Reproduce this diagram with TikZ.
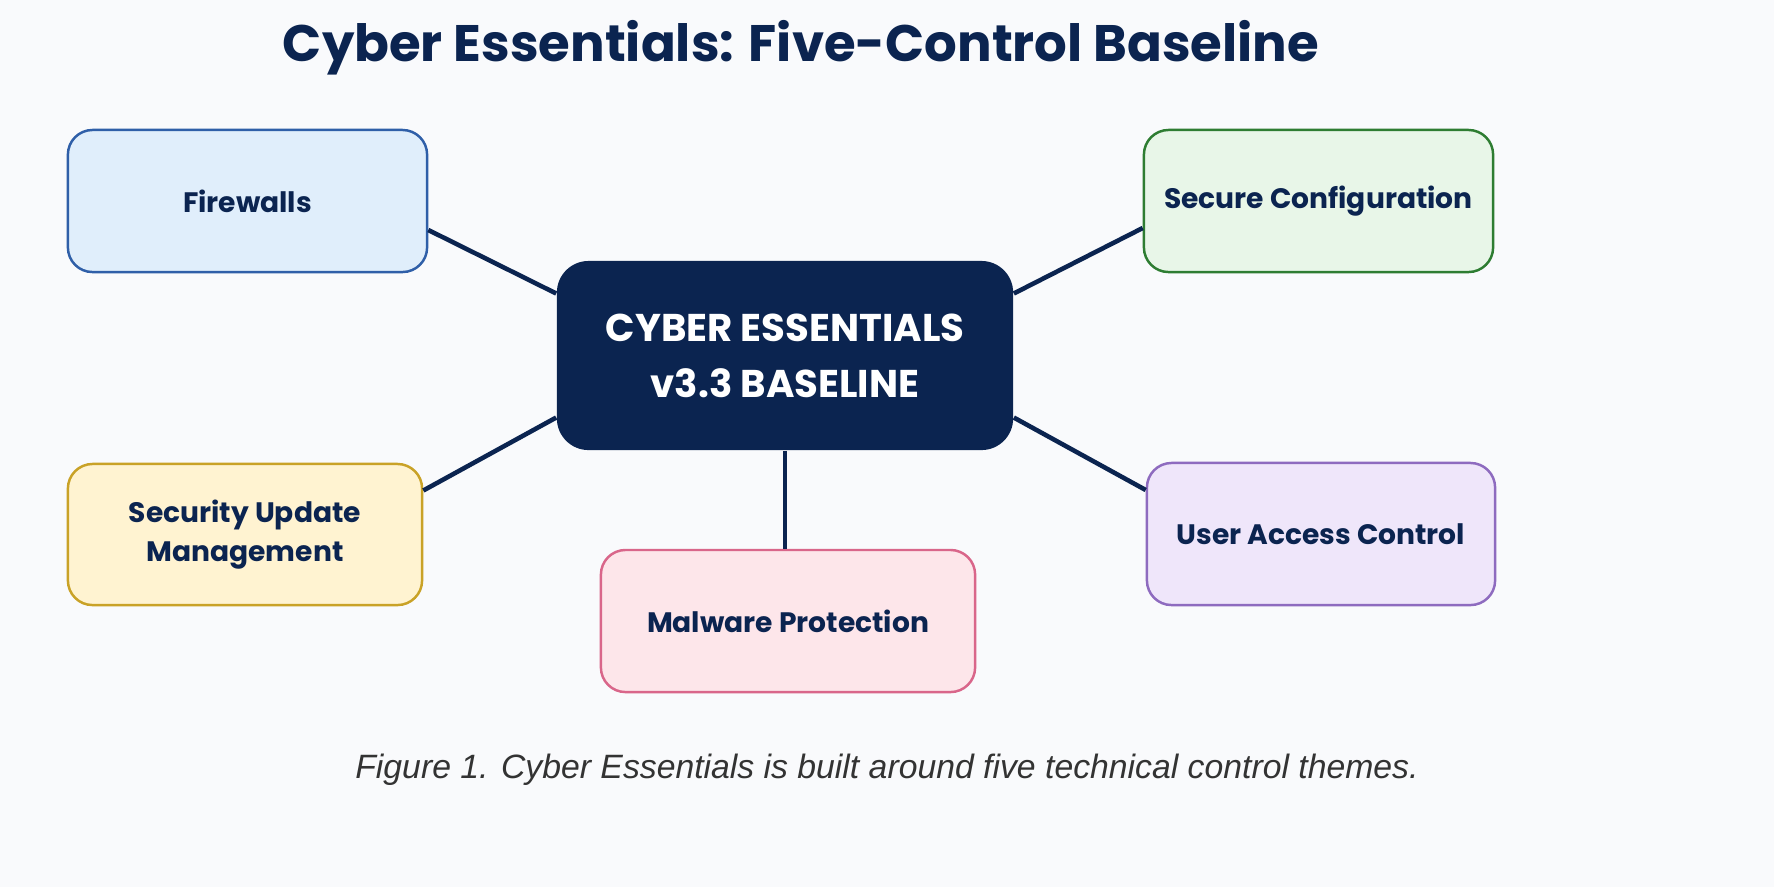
\documentclass[tikz,border=0pt]{standalone}
\usepackage{fontspec}
\setmainfont{Poppins}
\newfontfamily\capfont{Liberation Sans}
\definecolor{navy}{HTML}{0B2450}
\definecolor{bg}{HTML}{F9FAFC}
\definecolor{fwF}{HTML}{E0EEFB}\definecolor{fwD}{HTML}{2F5FA8}
\definecolor{scF}{HTML}{E8F6E8}\definecolor{scD}{HTML}{2E7D32}
\definecolor{suF}{HTML}{FFF3D1}\definecolor{suD}{HTML}{C9A227}
\definecolor{mpF}{HTML}{FDE6EA}\definecolor{mpD}{HTML}{D9668A}
\definecolor{uaF}{HTML}{EFE6FA}\definecolor{uaD}{HTML}{8E6BBF}
\definecolor{capC}{HTML}{333333}
\begin{document}
\begin{tikzpicture}[x=0.01cm,y=-0.01cm,
 box/.style={draw, line width=0.7pt, rounded corners=7pt, align=center, font=\fontsize{8}{11}\selectfont\bfseries, text=navy},
 conn/.style={draw=navy, line width=1.3pt}]
\fill[bg] (0,0) rectangle (1774,887);
\useasboundingbox (0,0) rectangle (1774,887);
\node[text=navy, font=\fontsize{14.6}{17}\selectfont\bfseries] (title) at (801,48) {Cyber Essentials: Five-Control Baseline};
\node[box, fill=fwF, draw=fwD, minimum width=3.59cm, minimum height=1.42cm] (fw) at (247.5,201) {Firewalls};
\node[box, fill=scF, draw=scD, minimum width=3.49cm, minimum height=1.42cm] (sc) at (1318.5,201) {Secure Configuration};
\node[box, fill=suF, draw=suD, minimum width=3.54cm, minimum height=1.41cm] (su) at (245,534.5) {Security Update\\Management};
\node[box, fill=mpF, draw=mpD, minimum width=3.74cm, minimum height=1.42cm] (mp) at (788,621) {Malware Protection};
\node[box, fill=uaF, draw=uaD, minimum width=3.48cm, minimum height=1.42cm] (ua) at (1321,534) {User Access Control};
\node[draw=none, fill=navy, rounded corners=9pt, text=white, align=center, font=\fontsize{11}{16}\selectfont\bfseries, minimum width=4.56cm, minimum height=1.89cm] (c) at (785,355.5) {CYBER ESSENTIALS\\v3.3 BASELINE};
\draw[conn] ([yshift=-0.29cm]fw.east) -- ([yshift=0.62cm]c.west);
\draw[conn] ([yshift=-0.27cm]sc.west) -- ([yshift=0.62cm]c.east);
\draw[conn] ([yshift=0.44cm]su.east) -- ([yshift=-0.62cm]c.west);
\draw[conn] ([yshift=0.44cm]ua.west) -- ([yshift=-0.62cm]c.east);
\draw[conn] (c.south) -- (c.south |- mp.north);
\node[text=capC, font=\capfont\fontsize{9.6}{11}\selectfont\itshape] (cap) at (887,770) {Figure 1. Cyber Essentials is built around five technical control themes.};
\end{tikzpicture}
\end{document}
